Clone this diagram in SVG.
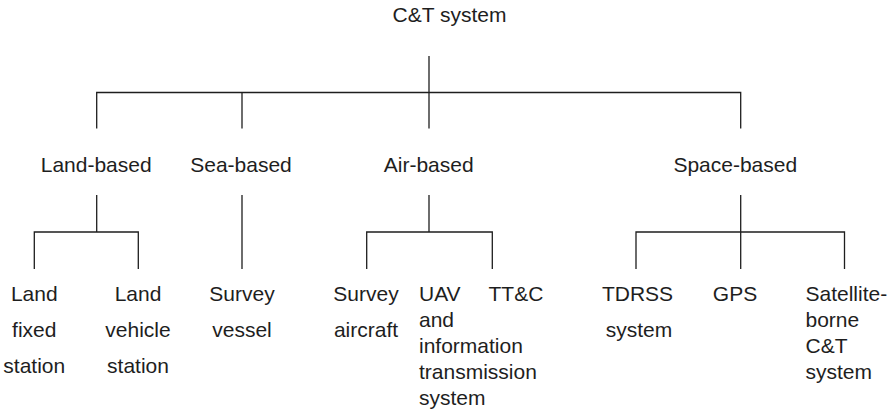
<svg xmlns="http://www.w3.org/2000/svg" width="894" height="410" viewBox="0 0 894 410">
  <style>
    text { font-family: "Liberation Sans", Arial, Helvetica, sans-serif; font-size: 21px; fill: #1e1e1e; }
    .c { text-anchor: middle; }
    .l { text-anchor: start; }
    #connectors path { fill: none; stroke: #1e1e1e; stroke-width: 1.3; }
  </style>
  <rect width="894" height="410" fill="#ffffff"/>

  <!-- tree connectors -->
  <g id="connectors">
    <!-- root to level 1 -->
    <path d="M429 56 V92.5"/>
    <path d="M96.7 128.5 V92.5 H740.7 V128.5"/>
    <path d="M242 92.5 V128.5"/>
    <path d="M429 92.5 V128.5"/>
    <!-- land-based -->
    <path d="M96.7 195 V232"/>
    <path d="M34.3 269 V232 H138.3 V269"/>
    <!-- sea-based -->
    <path d="M242 195 V269"/>
    <!-- air-based -->
    <path d="M429 195 V232"/>
    <path d="M366.7 269 V232 H492.3 V269"/>
    <!-- space-based -->
    <path d="M740.7 195 V269"/>
    <path d="M636 269 V232 H844.5 V269"/>
  </g>

  <g id="root"><text class="c" x="449.5" y="22">C&amp;T system</text></g>

  <g id="land-based"><text class="c" x="96.2" y="172">Land-based</text></g>
  <g id="sea-based"><text class="c" x="241" y="172">Sea-based</text></g>
  <g id="air-based"><text class="c" x="428.7" y="172">Air-based</text></g>
  <g id="space-based"><text class="c" x="735.3" y="172">Space-based</text></g>

  <g id="land-fixed-station">
    <text class="c" x="34.3" y="301">Land</text>
    <text class="c" x="34.3" y="337">fixed</text>
    <text class="c" x="34.3" y="373">station</text>
  </g>
  <g id="land-vehicle-station">
    <text class="c" x="138" y="301">Land</text>
    <text class="c" x="138" y="337">vehicle</text>
    <text class="c" x="138" y="373">station</text>
  </g>
  <g id="survey-vessel">
    <text class="c" x="242" y="301">Survey</text>
    <text class="c" x="242" y="337">vessel</text>
  </g>
  <g id="survey-aircraft">
    <text class="c" x="366" y="301">Survey</text>
    <text class="c" x="366" y="337">aircraft</text>
  </g>
  <g id="uav-system">
    <text class="l" x="419" y="301">UAV</text>
    <text class="l" x="419" y="327">and</text>
    <text class="l" x="419" y="353">information</text>
    <text class="l" x="419" y="379">transmission</text>
    <text class="l" x="419" y="405">system</text>
  </g>
  <g id="ttc"><text class="l" x="488.5" y="301">TT&amp;C</text></g>
  <g id="tdrss-system">
    <text class="c" x="637.5" y="301">TDRSS</text>
    <text class="c" x="639" y="337">system</text>
  </g>
  <g id="gps"><text class="c" x="735" y="301">GPS</text></g>
  <g id="satellite-borne">
    <text class="l" x="805.5" y="301">Satellite-</text>
    <text class="l" x="805.5" y="327">borne</text>
    <text class="l" x="805.5" y="353">C&amp;T</text>
    <text class="l" x="805.5" y="379">system</text>
  </g>
</svg>
